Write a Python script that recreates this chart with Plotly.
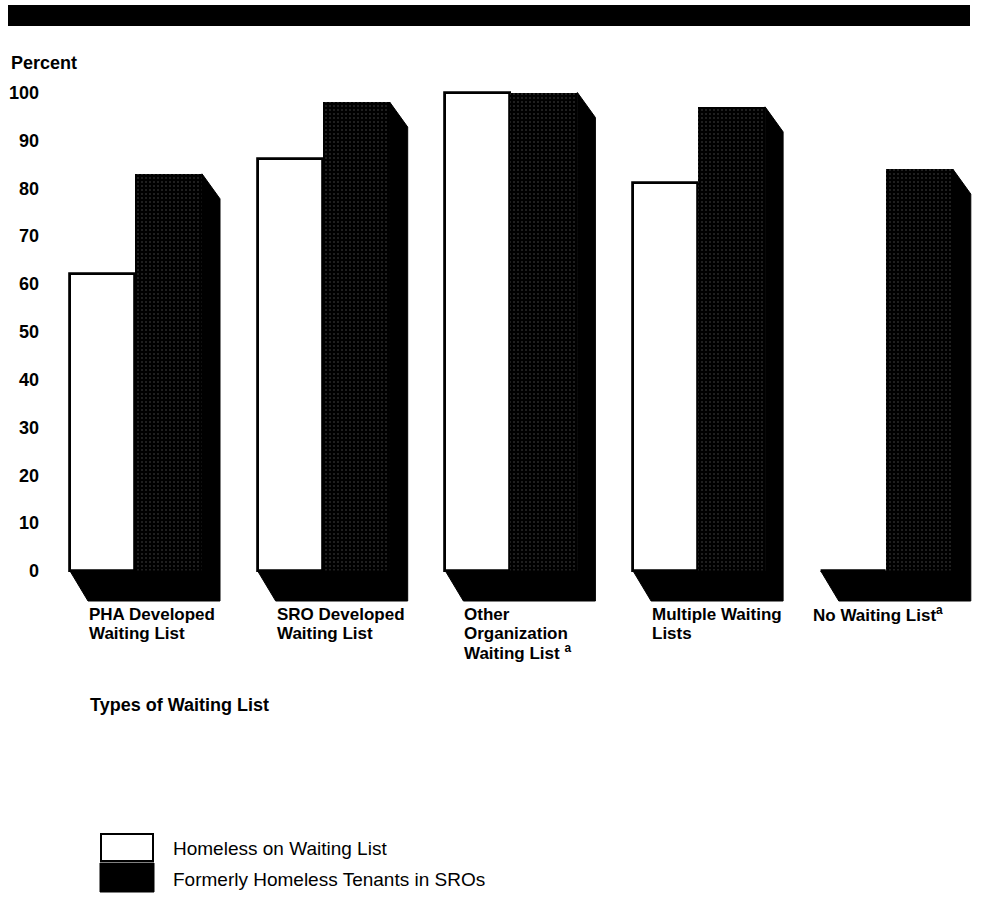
import plotly.graph_objects as go

# ---------------- data ----------------
categories = [
    "PHA Developed Waiting List",
    "SRO Developed Waiting List",
    "Other Organization Waiting List",
    "Multiple Waiting Lists",
    "No Waiting List",
]
category_label_lines = [
    ["PHA Developed", "Waiting List"],
    ["SRO Developed", "Waiting List"],
    ["Other", "Organization", "Waiting List <sup>a</sup>"],
    ["Multiple Waiting", "Lists"],
    ["No Waiting List<sup>a</sup>"],
]
series_names = ["Homeless on Waiting List", "Formerly Homeless Tenants in SROs"]
homeless_on_waiting_list = [62, 86, 100, 81, 0]
formerly_homeless_tenants = [83, 98, 100, 97, 84]
y_tick_values = [0, 10, 20, 30, 40, 50, 60, 70, 80, 90, 100]
y_axis_title = "Percent"
x_axis_title = "Types of Waiting List"

# ---------------- geometry (layout only) ----------------
W, H = 982, 902
ML, MR = 44, 7
PW = W - ML - MR
X0_PX = 135.0      # pixel of the first category centre
PITCH = 187.7      # pixels per category
Y0_PX = 571.0      # pixel of value 0
PPU = 4.785        # pixels per percent

x_range = [(ML - X0_PX) / PITCH, (W - MR - X0_PX) / PITCH]
y_range = [(Y0_PX - H) / PPU, Y0_PX / PPU]

W1 = 65 / PITCH    # white bar width
W2 = 67 / PITCH    # black bar width
DX = 18 / PITCH    # depth in x
DYT = 25 / PPU     # depth at top of side face
DYB = 30 / PPU     # depth of the floor


def paper_x(px):
    return (px - ML) / PW


def paper_y(py):
    return 1 - py / H


fig = go.Figure()

# 3-D side faces + floors (black), built from the data values
for i, v in enumerate(formerly_homeless_tenants):
    wl = i - W1
    fr = i + W2
    xs = [wl, fr, fr, fr + DX, fr + DX, wl + DX, wl]
    ys = [0, 0, v, v - DYT, -DYB, -DYB, 0]
    fig.add_trace(go.Scatter(
        x=xs, y=ys, mode="lines", fill="toself",
        fillcolor="black", line=dict(color="black", width=1),
        hoverinfo="skip", showlegend=False,
    ))

x_pos = list(range(len(categories)))

fig.add_trace(go.Bar(
    name=series_names[0],
    x=[i - W1 / 2 for i in x_pos], y=homeless_on_waiting_list, width=W1,
    marker=dict(color="white", line=dict(color="black", width=2.8)),
    showlegend=False, hovertext=categories,
))
fig.add_trace(go.Bar(
    name=series_names[1],
    x=[i + W2 / 2 for i in x_pos], y=formerly_homeless_tenants, width=W2,
    marker=dict(color="black", line=dict(color="black", width=0),
                pattern=dict(shape=".", fgcolor="#8a8a8a", size=4, solidity=0.13)),
    showlegend=False, hovertext=categories,
))

BOLD = dict(family="Liberation Sans, Arial, sans-serif", size=18, color="black")
CAT = dict(family="Liberation Sans, Arial, sans-serif", size=17, color="black")
REG = dict(family="Liberation Sans, Arial, sans-serif", size=19, color="black")

annotations = []
# category labels
label_nudge_px = {4: -27}
for i, lines in enumerate(category_label_lines):
    left_px = X0_PX + i * PITCH - 65 + 18 + label_nudge_px.get(i, 0)
    for j, line in enumerate(lines):
        annotations.append(dict(
            xref="paper", yref="paper",
            x=paper_x(left_px), y=paper_y(614 + 19 * j),
            text=f"<b>{line}</b>", showarrow=False, borderpad=0,
            xanchor="left", yanchor="middle", font=CAT,
        ))

annotations.append(dict(
    xref="paper", yref="paper", x=paper_x(9), y=paper_y(63),
    text=f"<b>{y_axis_title}</b>", showarrow=False,
    xanchor="left", yanchor="middle", font=BOLD,
))
annotations.append(dict(
    xref="paper", yref="paper", x=paper_x(88), y=paper_y(705),
    text=f"<b>{x_axis_title}</b>", showarrow=False,
    xanchor="left", yanchor="middle", font=BOLD,
))
# legend texts
for k, (name, cy) in enumerate(zip(series_names, [848, 879])):
    annotations.append(dict(
        xref="paper", yref="paper", x=paper_x(171), y=paper_y(cy),
        text=name, showarrow=False, xanchor="left", yanchor="middle", font=REG,
    ))

shapes = [
    # top black band
    dict(type="rect", xref="paper", yref="paper",
         x0=paper_x(8), x1=paper_x(970), y0=paper_y(26), y1=paper_y(5),
         fillcolor="black", line=dict(width=0), layer="above"),
    # legend swatches
    dict(type="rect", xref="paper", yref="paper",
         x0=paper_x(101), x1=paper_x(153), y0=paper_y(861), y1=paper_y(834),
         fillcolor="white", line=dict(color="black", width=2)),
    dict(type="rect", xref="paper", yref="paper",
         x0=paper_x(100), x1=paper_x(154), y0=paper_y(892), y1=paper_y(863),
         fillcolor="black", line=dict(color="black", width=1)),
]

fig.update_layout(
    width=W, height=H, autosize=False,
    margin=dict(l=ML, r=MR, t=0, b=0, pad=0),
    paper_bgcolor="white", plot_bgcolor="white",
    barmode="overlay", bargap=0,
    showlegend=False,
    annotations=annotations, shapes=shapes,
    xaxis=dict(range=x_range, showgrid=False, zeroline=False, showline=False,
               showticklabels=False, ticks="", fixedrange=True),
    yaxis=dict(range=y_range, showgrid=False, zeroline=False, showline=False,
               tickvals=y_tick_values,
               ticktext=[f"<b>{v}</b>" for v in y_tick_values],
               tickfont=BOLD, ticks="", ticklabelstandoff=4, fixedrange=True),
)

fig.write_html("out.html", config={"displayModeBar": False})
